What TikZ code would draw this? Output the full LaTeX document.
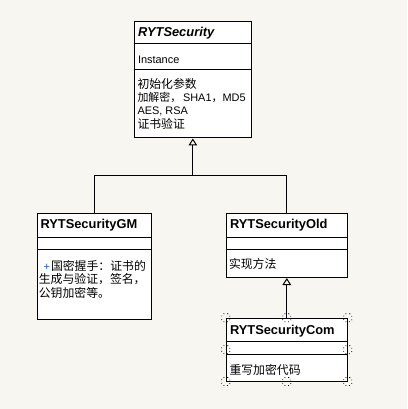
\documentclass[tikz,border=0pt]{standalone}
\usepackage{fontspec}
\setmainfont{Liberation Sans}
\newfontfamily\cjk{Noto Sans CJK SC}
\usetikzlibrary{fit, arrows.meta}

\definecolor{canvas}{RGB}{248,246,240}
\definecolor{plusblue}{RGB}{30,90,200}

\begin{document}
\begin{tikzpicture}[x=0.75pt, y=-0.75pt, line width=0.75pt,
    cls/.style={draw, fill=white, inner sep=0pt},
    cname/.style={anchor=base west, inner sep=0pt, font=\fontsize{9.65}{11}\selectfont\bfseries},
    attr/.style={anchor=base west, inner sep=0pt, font=\fontsize{8.2}{10}\selectfont},
    zh/.style={anchor=base west, inner sep=0pt, font=\fontsize{8.9}{10}\selectfont\cjk},
    handle/.style={draw, dotted, line width=0.6pt, rounded corners=1.5pt, minimum size=6pt, inner sep=0pt},
    inherit/.style={-{Triangle[open, length=5.25pt, width=6.5pt]}},
    ]
\fill[canvas] (0,0) rectangle (407,409);
\useasboundingbox (0,0) rectangle (407,409);

% classes
\node[cls, fit={(134,21.7) (251.7,138)}] (sec) {};
\node[cls, fit={(37.3,213) (151,319.3)}] (gm) {};
\node[cls, fit={(226.3,213) (347.3,277.5)}] (old) {};
\node[cls, fit={(226.3,318.3) (347.3,381)}] (com) {};

\foreach \b/\y in {sec/44, sec/70, gm/237.3, gm/249.7,
            old/237.3, old/249.7, com/341.7, com/354}
    \draw (\b.west |- 0,\y) -- (\b.east |- 0,\y);

% RYTSecurity
\node[cname, font=\fontsize{9.65}{11}\selectfont\bfseries\itshape] (secname) at (137.5,36.7) {RYTSecurity};
\node[attr] (secinst) at (137.5,63.3) {Instance};
\node[zh] (secop1) at (137,88.6) {初始化参数};
\node[attr] (secop2) at (137,101.4) {{\cjk 加解密，}\,SHA1{\cjk ，}MD5};
\node[attr] (secop3) at (137,114.7) {AES, RSA};
\node[zh] (secop4) at (137,128.8) {证书验证};

% RYTSecurityGM
\node[cname] (gmname) at (40,228.7) {RYTSecurityGM};
\node[attr, text=plusblue] (gmplus) at (43,270.5) {+};
\node[zh] (gmop1) at (50.5,270.5) {国密握手：证书的};
\node[zh] (gmop2) at (38.3,283.8) {生成与验证，签名，};
\node[zh] (gmop3) at (38.3,297.2) {公钥加密等。};

% RYTSecurityOld
\node[cname] (oldname) at (229.5,228.7) {RYTSecurityOld};
\node[zh] (oldop) at (228.5,268.6) {实现方法};

% RYTSecurityCom
\node[cname] (comname) at (229.5,334) {RYTSecurityCom};
\node[zh] (comop) at (229,374.2) {重写加密代码};

% inheritance
\coordinate (joint) at (sec.south |- 0,176);
\draw (gm.north) |- (joint);
\draw (old.north) |- (joint);
\draw[inherit] (joint) -- (sec.south);
\draw[inherit] (com.north) -- (old.south);

% selection handles
\foreach \a in {north west, north, north east, west, east, south west, south, south east}
    \node[handle] (h-\a) at (com.\a) {};

\end{tikzpicture}
\end{document}
